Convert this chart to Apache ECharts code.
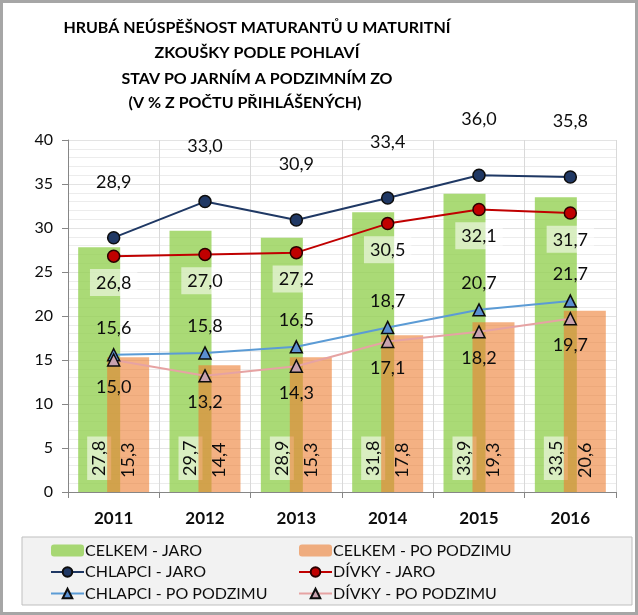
<!DOCTYPE html>
<html><head><meta charset="utf-8">
<script src="https://cdn.jsdelivr.net/npm/echarts@6/dist/echarts.min.js"></script>
<style>html,body{margin:0;padding:0;background:#fff}#c{width:638px;height:615px}</style>
</head><body><div id="c"></div>
<script>
var years = ['2011','2012','2013','2014','2015','2016'];
var celkemJaro = [27.8, 29.7, 28.9, 31.8, 33.9, 33.5];
var celkemPodzim = [15.3, 14.4, 15.3, 17.8, 19.3, 20.6];
var chlapciJaro = [28.9, 33.0, 30.9, 33.4, 36.0, 35.8];
var divkyJaro = [26.8, 27.0, 27.2, 30.5, 32.1, 31.7];
var chlapciPodzim = [15.6, 15.8, 16.5, 18.7, 20.7, 21.7];
var divkyPodzim = [15.0, 13.2, 14.3, 17.1, 18.2, 19.7];
var yTicks = [0, 5, 10, 15, 20, 25, 30, 35, 40];

var FONT = 'Lato';
function fmt(p){ return p.value.toFixed(1).replace('.', ','); }

var chart = echarts.init(document.getElementById('c'), null, {renderer:'canvas'});
var lblBase = {show:true, formatter:fmt, fontFamily:FONT, fontSize:18, color:'#0d0d0d'};
var titleStyle = {fontFamily:FONT, fontWeight:'bold', fontSize:16, fill:'#000', textAlign:'center', textVerticalAlign:'middle'};

var option = {
  animation:false,
  backgroundColor:'#ffffff',
  textStyle:{fontFamily:FONT},
  grid:{left:68, right:22, top:140, bottom:123, containLabel:false},
  legend:[
    {orient:'vertical', left:45, top:536, itemWidth:33, itemHeight:12, itemGap:2.5,
     data:['CELKEM - JARO','CHLAPCI - JARO','CHLAPCI - PO PODZIMU'],
     textStyle:{fontFamily:FONT, fontSize:16, lineHeight:19, color:'#0d0d0d', padding:[0,0,0,-4]}},
    {orient:'vertical', left:293, top:536, itemWidth:33, itemHeight:12, itemGap:2.5,
     data:['CELKEM - PO PODZIMU','DÍVKY - JARO','DÍVKY - PO PODZIMU'],
     textStyle:{fontFamily:FONT, fontSize:16, lineHeight:19, color:'#0d0d0d', padding:[0,0,0,-4]}}
  ],
  graphic:[
    {type:'rect', z:-10, shape:{x:22, y:537, width:610, height:68}, style:{fill:'#f2f2f2', stroke:'#bfbfbf', lineWidth:1}},
    {type:'rect', z:100, shape:{x:1.5, y:1.5, width:635, height:612}, style:{fill:null, stroke:'#a6a6a6', lineWidth:3}},
    {type:'text', x:257, y:28, style:Object.assign({text:'HRUBÁ NEÚSPĚŠNOST MATURANTŮ U MATURITNÍ'}, titleStyle)},
    {type:'text', x:257, y:53, style:Object.assign({text:'ZKOUŠKY PODLE POHLAVÍ'}, titleStyle)},
    {type:'text', x:257, y:79, style:Object.assign({text:'STAV PO JARNÍM A PODZIMNÍM ZO'}, titleStyle)},
    {type:'text', x:245, y:103, style:Object.assign({text:'(V % Z POČTU PŘIHLÁŠENÝCH)'}, titleStyle)}
  ],
  xAxis:{type:'category', data:years,
    axisLine:{lineStyle:{color:'#868686'}},
    axisTick:{show:true, length:6, lineStyle:{color:'#868686'}},
    splitLine:{show:true, lineStyle:{color:'#d9d9d9'}},
    axisLabel:{fontFamily:FONT, fontWeight:'bold', fontSize:17, color:'#0d0d0d', margin:18}},
  yAxis:{type:'value', min:0, max:40, interval:5,
    axisLine:{show:true, lineStyle:{color:'#868686'}},
    axisTick:{show:true, length:6, lineStyle:{color:'#868686'}},
    splitLine:{show:true, lineStyle:{color:'#e3e3e3'}},
    minorTick:{show:false, splitNumber:5},
    minorSplitLine:{show:true, lineStyle:{color:'#ececec'}},
    axisLabel:{fontFamily:FONT, fontSize:16, color:'#0d0d0d', margin:15,
      formatter:function(v){ return yTicks.indexOf(v) >= 0 ? String(v) : ''; }}},
  series:[
    {name:'CELKEM - JARO', type:'bar', data:celkemJaro, barWidth:42, barGap:'-31%', z:1,
     itemStyle:{color:'rgba(146,208,80,0.78)'},
     label:Object.assign({}, lblBase, {position:'insideBottom', rotate:90, align:'left', verticalAlign:'middle', distance:12,
       backgroundColor:'rgba(255,255,255,0.55)', padding:[3,4,3,4]})},
    {name:'CELKEM - PO PODZIMU', type:'bar', data:celkemPodzim, barWidth:42, z:2,
     itemStyle:{color:'rgba(237,125,49,0.6)'},
     label:Object.assign({}, lblBase, {position:'insideBottom', rotate:90, align:'left', verticalAlign:'middle', distance:14})},
    {name:'CHLAPCI - JARO', type:'line', data:chlapciJaro, z:5, symbol:'circle', symbolSize:12,
     lineStyle:{color:'#1f3864', width:2}, itemStyle:{color:'#203864', borderColor:'#0d0d0d', borderWidth:1.5},
     label:Object.assign({}, lblBase, {position:'top', distance:40})},
    {name:'DÍVKY - JARO', type:'line', data:divkyJaro, z:5, symbol:'circle', symbolSize:12,
     lineStyle:{color:'#c00000', width:2}, itemStyle:{color:'#c00000', borderColor:'#2a0000', borderWidth:1.5},
     label:Object.assign({}, lblBase, {position:'bottom', distance:6, backgroundColor:'rgba(255,255,255,0.55)', padding:[5,6,4,6]})},
    {name:'CHLAPCI - PO PODZIMU', type:'line', data:chlapciPodzim, z:5, symbol:'triangle', symbolSize:12,
     lineStyle:{color:'#5b9bd5', width:2}, itemStyle:{color:'#5a8fd0', borderColor:'#0d0d0d', borderWidth:1.5},
     label:Object.assign({}, lblBase, {position:'top', distance:11})},
    {name:'DÍVKY - PO PODZIMU', type:'line', data:divkyPodzim, z:5, symbol:'triangle', symbolSize:12,
     lineStyle:{color:'#e6a3a3', width:2}, itemStyle:{color:'#c8a2ae', borderColor:'#0d0d0d', borderWidth:1.5},
     label:Object.assign({}, lblBase, {position:'bottom', distance:11})}
  ]
};
chart.setOption(option);
</script></body></html>
